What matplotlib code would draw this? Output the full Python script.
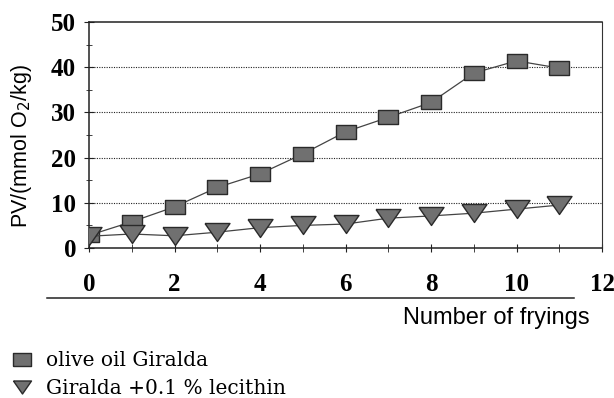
import numpy as np
import matplotlib
matplotlib.use("Agg")
import matplotlib.pyplot as plt
from matplotlib.lines import Line2D

fryings = np.arange(0, 12)
pv_olive = [2.8, 5.8, 9.1, 13.4, 16.4, 20.8, 25.7, 28.9, 32.2, 38.7, 41.4, 39.8]
pv_lecithin = [2.6, 3.1, 2.7, 3.5, 4.5, 5.0, 5.3, 6.6, 7.1, 7.7, 8.6, 9.5]
labels = ["olive oil Giralda", "Giralda +0.1 % lecithin"]

# flattened marker shapes, as in the scanned figure
rect = [(-1, -0.72), (1, -0.72), (1, 0.72), (-1, 0.72), (-1, -0.72)]
tri = [(-1, 0.72), (1, 0.72), (0, -0.72), (-1, 0.72)]

fig = plt.figure(figsize=(6.14, 3.98), dpi=100)
ax = fig.add_axes([89 / 614, 1 - 248 / 398, 513 / 614, 226 / 398])

mcol = "#707070"
ecol = "#2a2a2a"
ax.plot(fryings, pv_olive, color="#444444", lw=0.9, marker=rect, ms=15,
        mfc=mcol, mec=ecol, mew=1.0, zorder=3)
ax.plot(fryings, pv_lecithin, color="#444444", lw=0.9, marker=tri, ms=18,
        mfc=mcol, mec=ecol, mew=1.0, zorder=3)

ax.set_xlim(0, 12)
ax.set_ylim(0, 50)
ax.set_xticks(np.arange(0, 13, 2))
ax.set_xticks(np.arange(0, 13, 1), minor=True)
ax.set_yticks(np.arange(0, 51, 10))
ax.set_yticks(np.arange(0, 51, 5), minor=True)
for y in [10, 20, 30, 40]:
    ax.axhline(y, color="#222222", lw=0.8, ls=(0, (1, 1.2)), zorder=1)

for s in ["top", "left", "bottom"]:
    ax.spines[s].set_color("#222222")
    ax.spines[s].set_linewidth(1.1)
ax.spines["right"].set_color("#333333")
ax.spines["right"].set_linewidth(0.8)

ax.tick_params(axis="both", which="both", direction="inout", color="#222222")
ax.tick_params(axis="x", which="both", length=6, pad=15)
ax.tick_params(axis="y", which="major", length=6.5, pad=6)
ax.tick_params(axis="y", which="minor", length=4)

for lab in ax.get_xticklabels() + ax.get_yticklabels():
    lab.set_fontfamily("Liberation Serif")
    lab.set_fontweight("bold")
    lab.set_fontsize(18)

fig.text(22 / 614, 1 - 146 / 398, "PV/(mmol O$_2$/kg)", rotation=90,
         ha="center", va="center", fontsize=15.5, family="Liberation Sans")

# rule under the x tick labels and the x axis title
fig.add_artist(Line2D([47 / 614, 574 / 614], [1 - 298 / 398, 1 - 298 / 398],
                      color="#222222", lw=1.1))
fig.text(590 / 614, 1 - 318 / 398, "Number of fryings", ha="right", va="center",
         fontsize=17, family="Liberation Sans")

handles = [
    Line2D([], [], ls="none", marker=rect, ms=13, mfc=mcol, mec=ecol),
    Line2D([], [], ls="none", marker=tri, ms=13, mfc=mcol, mec=ecol),
]
fig.legend(handles, labels, loc="upper left", bbox_to_anchor=(4 / 614, 1 - 343 / 398),
           frameon=False, prop={"family": "DejaVu Serif", "size": 14.5},
           handlelength=1.0, handletextpad=0.7, labelspacing=0.45, borderaxespad=0.0)

fig.savefig("out.png", dpi=100)
